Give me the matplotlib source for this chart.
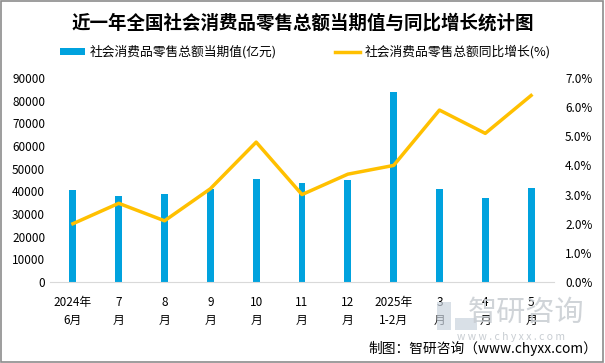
import matplotlib.pyplot as plt
from matplotlib.patches import Rectangle

plt.rcParams['font.family'] = ['Noto Sans CJK SC', 'DejaVu Sans']

months = ['2024年\n6月', '7\n月', '8\n月', '9\n月', '10\n月', '11\n月', '12\n月',
          '2025年\n1-2月', '3\n月', '4\n月', '5\n月']
retail = [40732, 37757, 38726, 41112, 45396, 43763, 45172, 83731, 40940, 37174, 41326]
growth = [2.0, 2.7, 2.1, 3.2, 4.8, 3.0, 3.7, 4.0, 5.9, 5.1, 6.4]

blue = '#00A2DE'
gold = '#FFC000'

fig = plt.figure(figsize=(6.05, 3.63), dpi=100)
fig.patches.append(Rectangle((0.002, 0.003), 0.995, 0.994, transform=fig.transFigure,
                             fill=False, edgecolor='#8C8C8C', linewidth=1.2))

# watermark (drawn first, behind everything)
fig.patches.append(Rectangle((437 / 605, 1 - 330 / 363), 14 / 605, 28 / 363,
                             transform=fig.transFigure, facecolor='#C9D3DE',
                             edgecolor='none', alpha=0.7, zorder=0))
fig.patches.append(Rectangle((455 / 605, 1 - 330 / 363), 22 / 605, 12 / 363,
                             transform=fig.transFigure, facecolor='#C9D3DE',
                             edgecolor='none', alpha=0.7, zorder=0))
fig.text(468 / 605, 0.138, '智研咨询', fontsize=21, color='#C8CDD2', alpha=0.85,
         ha='left', va='center', zorder=0)
fig.text(511 / 605, 0.072, 'w w w . c h y x x . c o m', fontsize=7.5, color='#C8CDD2',
         ha='center', va='center', zorder=0)

ax = fig.add_axes([50 / 605, 1 - 282 / 363, 504 / 605, 204 / 363])
ax.patch.set_alpha(0)
x = range(len(months))
bars = ax.bar(x, retail, width=0.15, color=blue, zorder=2)
ax.set_xlim(-0.5, len(months) - 0.5)
ax.set_ylim(0, 90000)
ax.set_yticks(range(0, 90001, 10000))
ax.set_xticks(list(x))
ax.set_xticklabels(months, fontsize=8.5, linespacing=1.55)
ax.tick_params(axis='both', length=0, labelsize=8.5)
ax.tick_params(axis='x', pad=10)
for s in ['top', 'right', 'left']:
    ax.spines[s].set_visible(False)
ax.spines['bottom'].set_color('#D9D9D9')

ax2 = ax.twinx()
line, = ax2.plot(list(x), growth, color=gold, linewidth=2.5, zorder=3)
ax2.set_ylim(0, 7)
ax2.set_yticks([i for i in range(8)])
ax2.set_yticklabels([f'{i:.1f}%' for i in range(8)])
ax2.tick_params(axis='y', length=0, labelsize=8.5, pad=8)
for s in ax2.spines.values():
    s.set_visible(False)

fig.text(0.5, 0.937, '近一年全国社会消费品零售总额当期值与同比增长统计图',
         ha='center', va='center', fontsize=13.3, fontweight='bold')

fig.legend([bars, line], ['社会消费品零售总额当期值(亿元)', '社会消费品零售总额同比增长(%)'],
           loc='center', bbox_to_anchor=(0.505, 0.857), ncol=2, frameon=False,
           fontsize=9.2, handlelength=1.9, handleheight=0.5, columnspacing=4.6,
           handletextpad=0.4)

fig.text(0.987, 0.039, '制图：智研咨询（www.chyxx.com）', fontsize=9.9,
         ha='right', va='center')

fig.savefig('out.png', dpi=100)
